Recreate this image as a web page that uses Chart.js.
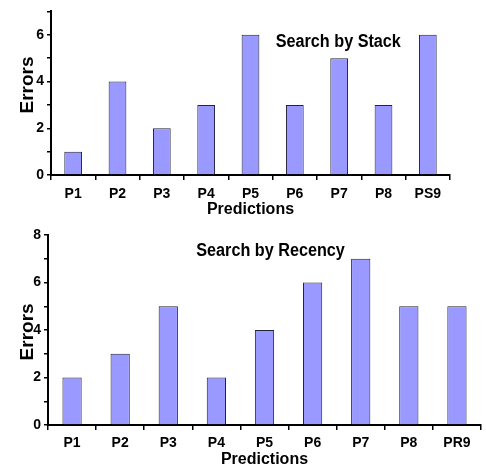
<!DOCTYPE html>
<html>
<head>
<meta charset="utf-8">
<script src="https://cdn.jsdelivr.net/npm/chart.js@4/dist/chart.umd.min.js"></script>
<style>
  html, body { margin: 0; padding: 0; background: #fff; }
  #wrap { position: relative; width: 486px; height: 474px; overflow: hidden; }
  .box { position: absolute; left: 0; width: 486px; }
  #top-box { top: 0; height: 230px; }
  #bottom-box { top: 222px; height: 252px; }
</style>
</head>
<body>
<div id="wrap">
  <div class="box" id="top-box"><canvas id="stack-chart"></canvas></div>
  <div class="box" id="bottom-box"><canvas id="recency-chart"></canvas></div>
</div>
<script>
const stackLabels = ["P1", "P2", "P3", "P4", "P5", "P6", "P7", "P8", "PS9"];
const stackErrors = [1, 4, 2, 3, 6, 3, 5, 3, 6];

const recencyLabels = ["P1", "P2", "P3", "P4", "P5", "P6", "P7", "P8", "PR9"];
const recencyErrors = [2, 3, 5, 2, 4, 6, 7, 5, 5];

const FONT = "'Liberation Sans', Arial, sans-serif";

// draws the chart title inside the plot area and the rotated "Errors" label
const innerTitles = {
  id: "innerTitles",
  afterDraw(chart, args, opts) {
    const ctx = chart.ctx;
    const area = chart.chartArea;
    ctx.save();
    ctx.fillStyle = "#000";
    ctx.textAlign = "center";
    ctx.textBaseline = "middle";

    ctx.font = "bold 18px " + FONT;
    ctx.translate(area.left + area.width * opts.titleX, area.top + area.height * opts.titleY);
    ctx.scale(0.9, 1);
    ctx.fillText(opts.title, 0, 0);
    ctx.restore();

    ctx.save();
    ctx.fillStyle = "#000";
    ctx.textAlign = "center";
    ctx.textBaseline = "middle";
    ctx.font = "bold 19px " + FONT;
    ctx.translate(opts.yTitleX, area.top + area.height * opts.yTitleY);
    ctx.rotate(-Math.PI / 2);
    ctx.fillText("Errors", 0, 0);
    ctx.restore();
  }
};

function makeChart(canvasId, labels, values, cfg) {
  return new Chart(document.getElementById(canvasId), {
    type: "bar",
    data: {
      labels: labels,
      datasets: [{
        data: values,
        backgroundColor: "#9999ff",
        borderColor: "#22223a",
        borderWidth: 1,
        barPercentage: 0.4,
        categoryPercentage: 1.0
      }]
    },
    plugins: [innerTitles],
    options: {
      responsive: true,
      maintainAspectRatio: false,
      animation: false,
      layout: { padding: { top: cfg.top, right: cfg.right, left: 0, bottom: 0 } },
      plugins: {
        legend: { display: false },
        tooltip: { enabled: false },
        innerTitles: {
          title: cfg.title,
          titleX: cfg.titleX,
          titleY: cfg.titleY,
          yTitleX: 28,
          yTitleY: cfg.yTitleY
        }
      },
      scales: {
        x: {
          afterFit(scale) { scale.height = cfg.xHeight; },
          grid: {
            offset: true,
            drawOnChartArea: false,
            color: "#000",
            lineWidth: 1.5,
            tickLength: 5
          },
          border: { display: true, color: "#000", width: 2 },
          ticks: {
            color: "#000",
            padding: cfg.xTickPad,
            font: { family: FONT, size: 14, weight: "bold" }
          },
          title: {
            display: true,
            text: "Predictions",
            color: "#000",
            font: { family: FONT, size: 16, weight: "bold" },
            padding: { top: 0, bottom: cfg.xTitlePad }
          }
        },
        y: {
          min: 0,
          max: cfg.max,
          afterFit(scale) { scale.width = cfg.yWidth; },
          grid: {
            drawOnChartArea: false,
            color: "#000",
            lineWidth: 1.5,
            tickLength: 4
          },
          border: { display: true, color: "#000", width: 2 },
          ticks: {
            stepSize: 1,
            color: "#000",
            padding: 3,
            font: { family: FONT, size: 14, weight: "bold" },
            callback: (v) => (v % 2 === 0 ? v : "")
          }
        }
      }
    }
  });
}

makeChart("stack-chart", stackLabels, stackErrors, {
  title: "Search by Stack",
  titleX: 0.72,
  titleY: 0.19,
  yTitleY: 0.45,
  max: 7,
  top: 8,
  right: 36,
  yWidth: 51,
  xHeight: 55,
  xTickPad: 6,
  xTitlePad: 11
});

makeChart("recency-chart", recencyLabels, recencyErrors, {
  title: "Search by Recency",
  titleX: 0.514,
  titleY: 0.087,
  yTitleY: 0.51,
  max: 8,
  top: 13,
  right: 5,
  yWidth: 48,
  xHeight: 49,
  xTickPad: 5,
  xTitlePad: 5
});
</script>
</body>
</html>
